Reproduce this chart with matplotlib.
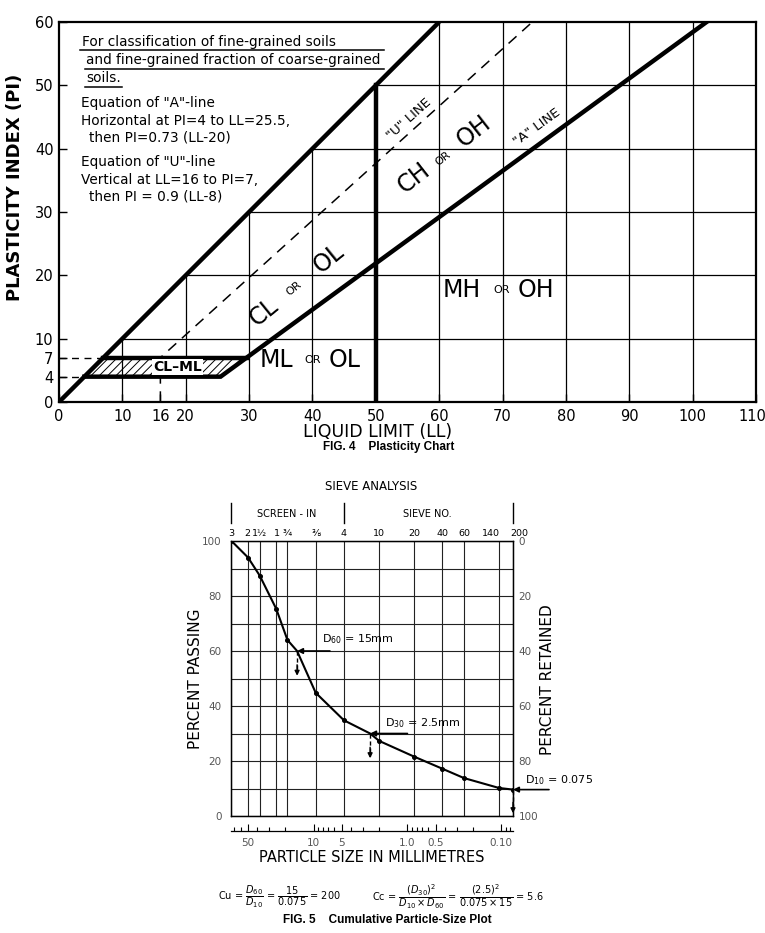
import matplotlib.pyplot as plt
from matplotlib.patches import Polygon
from matplotlib.ticker import FixedLocator, NullLocator, LogLocator
from matplotlib.transforms import ScaledTranslation

plt.rcParams['font.family'] = ['DejaVu Sans']
plt.rcParams['hatch.linewidth'] = 0.7

# Fig. 4 - plasticity chart
upper_ll = [0, 60]
upper_pi = [0, 60]
a_line_ll = [4, 25.5, 102.2]
a_line_pi = [4, 4, 60]
u_line_ll = [16, 16, 74.7]
u_line_pi = [0, 7, 60]
clml_ll = [4, 25.5, 29.6, 7]
clml_pi = [4, 4, 7, 7]
grid_ll = [10, 20, 30, 40, 50, 60, 70, 80, 90, 100]
grid_pi = [10, 20, 30, 40, 50]
ll_ticks = [0, 10, 16, 20, 30, 40, 50, 60, 70, 80, 90, 100, 110]
pi_ticks = [0, 4, 7, 10, 20, 30, 40, 50, 60]

# Fig. 5 - cumulative particle-size plot
sieve_mm = [75, 50, 37.5, 25, 19, 9.5, 4.75, 2.0, 0.85, 0.425, 0.25, 0.106, 0.075]
sieve_labels = ['3', '2', '1½', '1', '¾', '⅜', '4', '10', '20', '40', '60', '140', '200']
passing = [100, 94, 87.4, 75.3, 64, 44.8, 34.8, 27.3, 21.6, 17.2, 13.8, 10.2, 9.6]
d_mm = [15, 2.5, 0.075]
d_pct = [60, 30, 9.6]
d_drop = [50, 20, 0]
d_names = ['60', '30', '10']
d_values = ['15mm', '2.5mm', '0.075']
mm_ticks = [50, 10, 5, 1, 0.5, 0.1]
mm_labels = ['50', '10', '5', '1.0', '0.5', '0.10']

W, H = 765, 933


def fx(x):
    return x / W


def fy(y):
    return 1 - y / H


def nudge(label, dx):
    # shift a tick label sideways by dx pixels
    label.set_transform(label.get_transform()
                        + ScaledTranslation(dx / 100, 0, fig.dpi_scale_trans))


fig = plt.figure(figsize=(W / 100, H / 100), dpi=100)

# ---------------- FIG. 4 ----------------
ax = fig.add_axes([fx(59), fy(402), fx(756) - fx(59), fy(22) - fy(402)])
ax.set_xlim(0, 110)
ax.set_ylim(0, 60)
for s in ax.spines.values():
    s.set_linewidth(1.6)

# grid only in the region right of the PI=LL line
clip = Polygon([(0, 0), (60, 60), (110, 60), (110, 0)], closed=True,
               transform=ax.transData)
vl = ax.vlines(grid_ll, 0, 60, color='black', lw=0.9)
hl = ax.hlines(grid_pi, 0, 110, color='black', lw=0.9)
vl.set_clip_path(clip)
hl.set_clip_path(clip)

ax.fill(clml_ll, clml_pi, facecolor='white', edgecolor='black', hatch='////', lw=0)
ax.plot(upper_ll, upper_pi, color='black', lw=3.2, solid_capstyle='butt')
ax.plot(a_line_ll, a_line_pi, color='black', lw=3.2, solid_joinstyle='miter')
ax.plot([clml_ll[3], clml_ll[2]], [clml_pi[3], clml_pi[2]], color='black', lw=3.2)
ax.plot([50, 50], [0, 50], color='black', lw=3.2)
ax.plot(u_line_ll, u_line_pi, color='black', lw=1.1, dashes=(7, 5))
ax.plot([0, clml_ll[3]], [7, 7], color='black', lw=1.0, dashes=(5, 4))
ax.plot([0, clml_ll[0]], [4, 4], color='black', lw=1.0, dashes=(5, 4))

ax.set_xticks(ll_ticks)
ax.set_yticks(pi_ticks)
ax.tick_params(direction='in', length=6, width=1, labelsize=10.5, pad=4)
ax.tick_params(axis='x', pad=5)
nudge(ax.get_xticklabels()[-1], -4)

ax.text(18.7, 5.5, 'CL–ML', ha='center', va='center', fontsize=10, fontweight='bold',
        bbox=dict(facecolor='white', edgecolor='none', pad=0.6))

big = 17
zones = [
    ('CL', 32.3, 14.2, big, 39), ('OR', 37.0, 18.0, 8, 39), ('OL', 42.6, 22.7, big, 39),
    ('CH', 56.0, 35.4, big, 38), ('OR', 60.6, 38.5, 8, 38), ('OH', 65.5, 42.7, big, 38),
    ('ML', 34.3, 6.6, big, 0), ('OR', 40.0, 6.6, 8, 0), ('OL', 45.0, 6.6, big, 0),
    ('MH', 63.6, 17.7, big, 0), ('OR', 69.8, 17.7, 8, 0), ('OH', 75.2, 17.7, big, 0),
]
for txt, x, y, fs, rot in zones:
    ax.text(x, y, txt, ha='center', va='center', fontsize=fs, rotation=rot,
            rotation_mode='anchor')

ax.text(55.3, 44.6, '"U" LINE', ha='center', va='center', fontsize=9.5, rotation=42,
        rotation_mode='anchor')
ax.text(75.5, 43.4, '"A" LINE', ha='center', va='center', fontsize=9.5, rotation=36,
        rotation_mode='anchor')

notes = [
    (3.6, 56.9, 'For classification of fine-grained soils'),
    (4.3, 54.0, 'and fine-grained fraction of coarse-grained'),
    (4.3, 51.2, 'soils.'),
    (3.4, 47.2, 'Equation of "A"-line'),
    (3.4, 44.4, 'Horizontal at PI=4 to LL=25.5,'),
    (4.7, 41.8, 'then PI=0.73 (LL-20)'),
    (3.4, 37.9, 'Equation of "U"-line'),
    (3.4, 35.0, 'Vertical at LL=16 to PI=7,'),
    (4.7, 32.4, 'then PI = 0.9 (LL-8)'),
]
for x, y, txt in notes:
    ax.text(x, y, txt, ha='left', va='center', fontsize=9.8)
ax.plot([3.3, 51.3], [55.6, 55.6], color='black', lw=1.1)
ax.plot([4.1, 51.3], [52.6, 52.6], color='black', lw=1.1)
ax.plot([4.1, 10.0], [49.8, 49.8], color='black', lw=1.1)

fig.text(fx(15), fy(187), 'PLASTICITY INDEX (PI)', rotation=90, ha='center', va='center',
         fontsize=13, fontweight='bold')
fig.text(fx(378), fy(432), 'LIQUID LIMIT (LL)', ha='center', va='center', fontsize=12.5)
fig.text(fx(389), fy(447), 'FIG. 4    Plasticity Chart', ha='center', va='center',
         fontsize=8.5, fontweight='bold', family=['Liberation Sans', 'DejaVu Sans'])

# ---------------- FIG. 5 ----------------
ax2 = fig.add_axes([fx(231.5), fy(816), fx(513) - fx(231.5), fy(541) - fy(816)])
ax2.set_xscale('log')
ax2.set_xlim(75, 0.075)
ax2.set_ylim(0, 100)
ax2.set_xticks(sieve_mm, labels=sieve_labels)
ax2.xaxis.set_minor_locator(NullLocator())
ax2.tick_params(axis='x', top=True, labeltop=True, bottom=False, labelbottom=False,
                length=0, pad=2, labelsize=6.8)
shifts = {'140': -8, '200': 6, '2': -1, '1': 1}
for t in ax2.xaxis.get_major_ticks():
    dx = shifts.get(t.label2.get_text(), 0)
    if dx:
        nudge(t.label2, dx)
ax2.set_yticks(range(0, 101, 20))
ax2.set_yticks(range(0, 101, 10), minor=True)
ax2.tick_params(axis='y', which='both', length=0, labelsize=7.5, labelcolor='#555555', pad=7)
ax2.grid(True, which='both', color='#222222', lw=0.8)
ax2.set_axisbelow(True)
for s in ax2.spines.values():
    s.set_linewidth(1.0)

curve = sorted(zip(sieve_mm + d_mm[:2], passing + d_pct[:2]), reverse=True)
ax2.plot([c[0] for c in curve], [c[1] for c in curve], color='black', lw=1.5)
ax2.plot(sieve_mm, passing, 'o', color='black', ms=2.6)

arrow_from = [6.7, 1.0, 0.031]
text_at = [(8.1, 64.4), (1.73, 33.8), (0.0553, 13.1)]
for d, p, drop, nm, val, x0, (tx, ty) in zip(d_mm, d_pct, d_drop, d_names, d_values,
                                               arrow_from, text_at):
    ax2.annotate('', xy=(d, p), xytext=(x0, p), annotation_clip=False,
                 arrowprops=dict(arrowstyle='-|>', color='black', lw=1.2,
                                 shrinkA=0, shrinkB=0, mutation_scale=8))
    ax2.plot([d, d], [p, drop + 2], color='black', lw=1.0, dashes=(3, 2), clip_on=False)
    ax2.annotate('', xy=(d, drop + 1), xytext=(d, drop + 5), annotation_clip=False,
                 arrowprops=dict(arrowstyle='-|>', color='black', lw=1.0,
                                 shrinkA=0, shrinkB=0, mutation_scale=7))
    ax2.text(tx, ty, 'D$_{%s}$ = %s' % (nm, val), ha='left', va='center', fontsize=8,
             clip_on=False)

ax2r = ax2.twinx()
ax2r.set_ylim(100, 0)
ax2r.set_yticks(range(0, 101, 20))
ax2r.tick_params(axis='y', length=0, labelsize=7.5, labelcolor='#555555', pad=4)

for x in [75, 4.75, 0.075]:
    ax2.axvline(x, ymin=1.065, ymax=1.138, color='black', lw=1.0, clip_on=False)

# millimetre scale under the chart
ax3 = fig.add_axes([fx(231.5), fy(831), fx(513) - fx(231.5), 0.02])
ax3.set_facecolor('none')
for k in ['top', 'left', 'right']:
    ax3.spines[k].set_visible(False)
ax3.spines['bottom'].set_linewidth(0.9)
ax3.set_xscale('log')
ax3.set_xlim(75, 0.075)
ax3.set_yticks([])
ax3.xaxis.set_major_locator(FixedLocator(mm_ticks))
ax3.set_xticklabels(mm_labels)
ax3.xaxis.set_minor_locator(LogLocator(subs=range(2, 10)))
ax3.tick_params(axis='x', which='major', direction='in', length=5, width=0.8,
                labelsize=7.5, labelcolor='#555555', pad=5)
ax3.tick_params(axis='x', which='minor', direction='in', length=3, width=0.8)

fig.text(fx(371), fy(487), 'SIEVE ANALYSIS', ha='center', va='center', fontsize=8.5)
fig.text(fx(287), fy(514), 'SCREEN - IN', ha='center', va='center', fontsize=7)
fig.text(fx(427), fy(514), 'SIEVE NO.', ha='center', va='center', fontsize=7)
fig.text(fx(195), fy(679), 'PERCENT PASSING', rotation=90, ha='center', va='center',
         fontsize=11)
fig.text(fx(547), fy(680), 'PERCENT RETAINED', rotation=90, ha='center', va='center',
         fontsize=11)
fig.text(fx(372), fy(858), 'PARTICLE SIZE IN MILLIMETRES', ha='center', va='center',
         fontsize=10.5)
fig.text(fx(218), fy(897), r'Cu = $\dfrac{D_{60}}{D_{10}}$ = $\dfrac{15}{0.075}$ = 200',
         ha='left', va='center', fontsize=7)
fig.text(fx(372), fy(897),
         r'Cc = $\dfrac{(D_{30})^2}{D_{10} \times D_{60}}$ = $\dfrac{(2.5)^2}{0.075 \times 15}$ = 5.6',
         ha='left', va='center', fontsize=7)
fig.text(fx(387), fy(920), 'FIG. 5    Cumulative Particle-Size Plot', ha='center',
         va='center', fontsize=8.5, fontweight='bold',
         family=['Liberation Sans', 'DejaVu Sans'])

fig.savefig('out.png', dpi=100)
